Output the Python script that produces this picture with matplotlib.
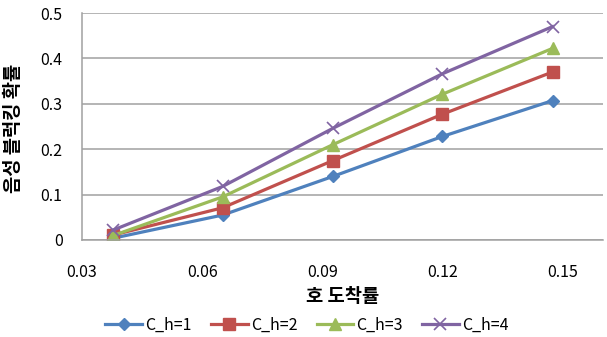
import matplotlib
matplotlib.use("Agg")
import matplotlib.pyplot as plt

plt.rcParams['font.family'] = ['Noto Sans CJK KR', 'DejaVu Sans']

x_vals = [0.0378, 0.0651, 0.0926, 0.1199, 0.1474]
series_names = ['C_h=1', 'C_h=2', 'C_h=3', 'C_h=4']
ch1 = [0.004, 0.055, 0.140, 0.228, 0.307]
ch2 = [0.011, 0.071, 0.175, 0.277, 0.370]
ch3 = [0.010, 0.095, 0.210, 0.321, 0.422]
ch4 = [0.022, 0.118, 0.246, 0.366, 0.470]
x_ticks = [0.03, 0.06, 0.09, 0.12, 0.15]
x_tick_labels = ['0.03', '0.06', '0.09', '0.12', '0.15']
y_ticks = [0, 0.1, 0.2, 0.3, 0.4, 0.5]
y_tick_labels = ['0', '0.1', '0.2', '0.3', '0.4', '0.5']
x_label = '호 도착률'
y_label = '음성 블럭킹 확률'

colors = ['#4F81BD', '#C0504D', '#9BBB59', '#8064A2']
markers = ['D', 's', '^', 'x']
msizes = [6.5, 8.5, 8, 9]

fig = plt.figure(figsize=(6.07, 3.37), dpi=100)
ax = fig.add_axes([82/607, 1-240/337, (603-82)/607, (240-13)/337])

for ys, name, c, m, ms in zip([ch1, ch2, ch3, ch4], series_names, colors, markers, msizes):
    kw = dict(markeredgecolor=c, markerfacecolor=c)
    if m == 'x':
        kw['markeredgewidth'] = 1.2
    ax.plot(x_vals, ys, color=c, lw=2.3, marker=m, markersize=ms, label=name, **kw)

ax.set_xlim(0.03, 0.16)
ax.set_ylim(0, 0.5)
ax.set_xticks(x_ticks)
ax.set_xticklabels(x_tick_labels)
ax.set_yticks(y_ticks)
ax.set_yticklabels(y_tick_labels)
ax.yaxis.grid(True, color='#A0A0A0', lw=1.1)
ax.set_axisbelow(True)
for s in ['top', 'right']:
    ax.spines[s].set_visible(False)
for s in ['left', 'bottom']:
    ax.spines[s].set_color('#A0A0A0')
    ax.spines[s].set_linewidth(1.1)
ax.tick_params(axis='both', length=0, labelsize=11.5, colors='black')
ax.tick_params(axis='x', pad=17)
ax.tick_params(axis='y', pad=14)

fig.text(343/607, 1-297/337, x_label, ha='center', va='center', fontsize=13.5, fontweight='bold')
fig.text(14/607, 1-128/337, y_label, ha='center', va='center', rotation=90, fontsize=13.5, fontweight='bold')

fig.legend(loc='center', bbox_to_anchor=(307/607, 1-325/337), ncol=4, frameon=False,
           fontsize=11.5, handlelength=2.3, columnspacing=1.2, handletextpad=0.2)

fig.savefig('out.png', dpi=100)
